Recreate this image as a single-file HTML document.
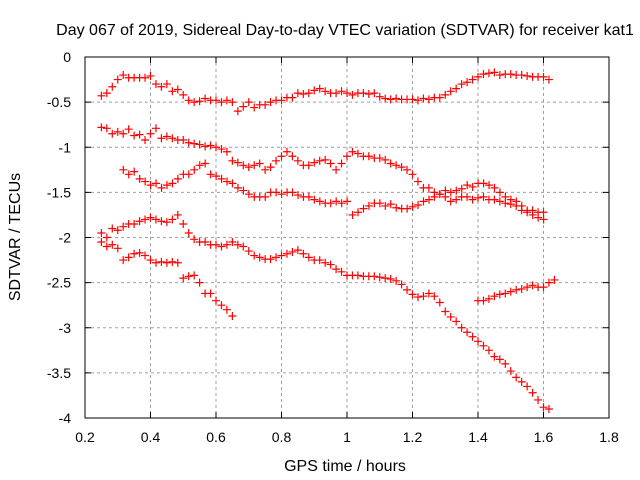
<!DOCTYPE html>
<html><head><meta charset="utf-8"><style>body{margin:0;background:#fff}svg{display:block}text{font-family:"Liberation Sans",sans-serif;font-size:14px;fill:#000}.big{font-size:16px}</style></head>
<body>
<svg id="chart" width="640" height="480">
<text class="big" x="345" y="35" text-anchor="middle">Day 067 of 2019, Sidereal Day-to-day VTEC variation (SDTVAR) for receiver kat1</text>
<text class="big" x="345" y="471" text-anchor="middle">GPS time / hours</text>
<text class="big" transform="translate(20,237) rotate(-90)" text-anchor="middle">SDTVAR / TECUs</text>
<g id="grid"></g><g id="marks"></g>
<rect x="85" y="57" width="524" height="361" fill="none" stroke="#000"/>
</svg>
<script>
const xTicks=[0.2,0.4,0.6,0.8,1,1.2,1.4,1.6,1.8];
const yTicks=[0,-0.5,-1,-1.5,-2,-2.5,-3,-3.5,-4];
const step=1/60;
const startA=0.25, seriesA=[-0.43,-0.40,-0.33,-0.25,-0.2,-0.23,-0.23,-0.23,-0.23,-0.21,-0.3,-0.33,-0.3,-0.38,-0.36,-0.42,-0.48,-0.5,-0.49,-0.46,-0.48,-0.48,-0.5,-0.48,-0.5,-0.6,-0.55,-0.5,-0.56,-0.53,-0.53,-0.5,-0.48,-0.48,-0.45,-0.45,-0.4,-0.41,-0.4,-0.37,-0.35,-0.38,-0.4,-0.4,-0.38,-0.4,-0.42,-0.4,-0.4,-0.41,-0.4,-0.44,-0.46,-0.47,-0.46,-0.47,-0.47,-0.47,-0.48,-0.46,-0.47,-0.45,-0.45,-0.42,-0.38,-0.35,-0.3,-0.28,-0.25,-0.22,-0.19,-0.18,-0.17,-0.2,-0.19,-0.19,-0.2,-0.2,-0.21,-0.22,-0.22,-0.22,-0.25];
const startB=0.25, seriesB=[-0.78,-0.79,-0.85,-0.83,-0.85,-0.8,-0.87,-0.86,-0.92,-0.85,-0.79,-0.9,-0.88,-0.9,-0.92,-0.92,-0.95,-0.96,-0.97,-0.99,-0.98,-1.0,-1.02,-1.05,-1.15,-1.17,-1.2,-1.22,-1.2,-1.18,-1.25,-1.22,-1.15,-1.1,-1.05,-1.1,-1.15,-1.2,-1.2,-1.17,-1.15,-1.14,-1.18,-1.25,-1.18,-1.1,-1.05,-1.07,-1.1,-1.1,-1.12,-1.12,-1.14,-1.18,-1.2,-1.22,-1.25,-1.3,-1.38,-1.45,-1.45,-1.5,-1.52,-1.55,-1.6,-1.58,-1.55,-1.55,-1.58,-1.56,-1.55,-1.58,-1.58,-1.6,-1.62,-1.63,-1.65,-1.7,-1.72,-1.7,-1.72,-1.72];
const startC=0.317, seriesC=[-1.25,-1.3,-1.27,-1.35,-1.38,-1.42,-1.4,-1.45,-1.42,-1.4,-1.35,-1.3,-1.3,-1.25,-1.2,-1.18,-1.3,-1.32,-1.35,-1.38,-1.4,-1.45,-1.48,-1.52,-1.55,-1.55,-1.55,-1.5,-1.5,-1.52,-1.5,-1.5,-1.53,-1.55,-1.55,-1.58,-1.6,-1.62,-1.62,-1.6,-1.62,-1.6,-1.75,-1.72,-1.68,-1.65,-1.62,-1.62,-1.65,-1.63,-1.67,-1.68,-1.68,-1.66,-1.64,-1.6,-1.58,-1.55,-1.52,-1.48,-1.5,-1.48,-1.46,-1.42,-1.44,-1.4,-1.4,-1.42,-1.45,-1.5,-1.55,-1.58,-1.6,-1.65,-1.7,-1.75,-1.78,-1.8];
const startD=0.25, seriesD=[-1.95,-2.0,-1.9,-1.92,-1.88,-1.85,-1.85,-1.82,-1.8,-1.78,-1.8,-1.82,-1.83,-1.8,-1.75,-1.85,-1.95,-2.02,-2.05,-2.05,-2.08,-2.08,-2.1,-2.08,-2.05,-2.08,-2.1,-2.15,-2.2,-2.22,-2.24,-2.24,-2.22,-2.2,-2.18,-2.16,-2.14,-2.18,-2.22,-2.25,-2.25,-2.28,-2.3,-2.35,-2.38,-2.42,-2.42,-2.42,-2.43,-2.43,-2.43,-2.44,-2.45,-2.46,-2.48,-2.52,-2.58,-2.63,-2.66,-2.65,-2.62,-2.65,-2.72,-2.82,-2.88,-2.93,-3.0,-3.05,-3.1,-3.15,-3.2,-3.25,-3.32,-3.35,-3.4,-3.48,-3.55,-3.6,-3.65,-3.72,-3.8,-3.88,-3.9];
const startE=0.25, seriesE=[-2.05,-2.1,-2.08,-2.12,-2.25,-2.22,-2.18,-2.17,-2.2,-2.25,-2.28,-2.27,-2.28,-2.27,-2.28,-2.45,-2.43,-2.42,-2.5,-2.62,-2.62,-2.7,-2.75,-2.8,-2.87];
const startF=1.40, seriesF=[-2.7,-2.7,-2.68,-2.65,-2.63,-2.62,-2.6,-2.58,-2.57,-2.55,-2.53,-2.55,-2.55,-2.5,-2.47];
const X0=85,X1=609,Y0=57,Y1=418;
const sx=v=>X0+(v-0.2)/1.6*(X1-X0);
const sy=v=>Y0+(0-v)/4*(Y1-Y0);
const NS='http://www.w3.org/2000/svg';
const grid=document.getElementById('grid'),marks=document.getElementById('marks');
function mk(t,a,p){const e=document.createElementNS(NS,t);for(const k in a)e.setAttribute(k,a[k]);p.appendChild(e);return e;}
xTicks.forEach(t=>{const x=sx(t);
 if(t>0.2&&t<1.8){const g=mk('line',{x1:x,x2:x,y1:Y0,y2:Y1,stroke:'#a0a0a0','stroke-dasharray':'3,3'},grid);
 
 }
 mk('line',{x1:x,x2:x,y1:Y1,y2:Y1-6,stroke:'#000'},grid);mk('line',{x1:x,x2:x,y1:Y0,y2:Y0+6,stroke:'#000'},grid);
 const l=mk('text',{x:x,y:Y1+24,'text-anchor':'middle'},grid);l.textContent=String(t);
 
 });
yTicks.forEach(t=>{const y=sy(t);
 if(t<0&&t>-4){const g=mk('line',{x1:X0,x2:X1,y1:y,y2:y,stroke:'#a0a0a0','stroke-dasharray':'3,3'},grid);
 
 }
 mk('line',{x1:X0,x2:X0+6,y1:y,y2:y,stroke:'#000'},grid);mk('line',{x1:X1,x2:X1-6,y1:y,y2:y,stroke:'#000'},grid);
 const l=mk('text',{x:X0-14,y:y+5,'text-anchor':'end'},grid);l.textContent=String(t);
 
 });
function series(start,vals,name){vals.forEach((v,i)=>{const x=sx(start+i*step),y=sy(v);
 const p=mk('path',{d:`M${x-4},${y}h8M${x},${y-4}v8`,stroke:'#ff0000','stroke-width':1.2},marks);
 
 });}
series(startA,seriesA,'series-a');series(startB,seriesB,'series-b');series(startC,seriesC,'series-c');
series(startD,seriesD,'series-d');series(startE,seriesE,'series-e');series(startF,seriesF,'series-f');
</script>
</body></html>
